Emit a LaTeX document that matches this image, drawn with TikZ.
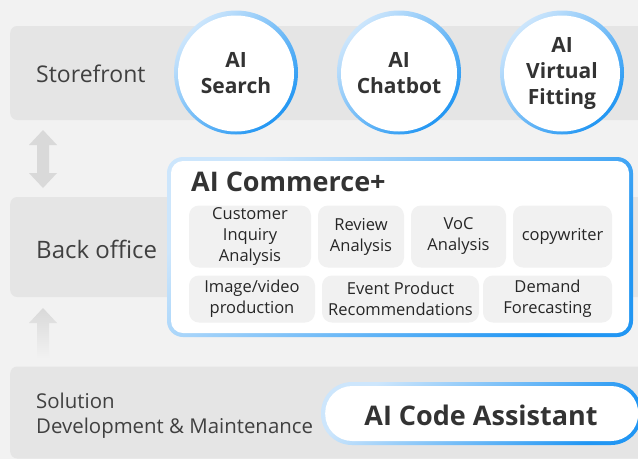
\documentclass[tikz,border=0pt]{standalone}
\usepackage{fontspec}
\setmainfont{Open Sans}
\usetikzlibrary{positioning, calc}
\definecolor{pagebg}{HTML}{F2F2F2}
\definecolor{bandgray}{HTML}{E5E5E5}
\definecolor{chipgray}{HTML}{F1F1F1}
\definecolor{arrowgray}{HTML}{D9D9D9}
\definecolor{ringlight}{HTML}{CDE6FC}
\definecolor{ringblue}{HTML}{2196F3}
\definecolor{labeltext}{HTML}{404040}
\definecolor{darktext}{HTML}{333333}

\tikzset{
  band/.style={rectangle, rounded corners=7pt, fill=bandgray, minimum width=650pt, anchor=west, inner sep=0pt},
  layer/.style={anchor=west, inner sep=0pt, text=labeltext, align=left, font=\fontsize{23}{27}\selectfont},
  ring/.style={top color=ringlight, bottom color=ringblue, shading angle=45},
  bubble/.style={circle, fill=white, minimum size=116pt, inner sep=0pt, align=center, text=darktext, font=\bfseries\fontsize{21}{26}\selectfont},
  chip/.style={rectangle, rounded corners=10pt, fill=chipgray, inner sep=0pt, align=center, text=black!85, font=\fontsize{16.5}{21}\selectfont},
  heading/.style={inner sep=0pt, text=darktext, font=\bfseries\fontsize{27}{30}\selectfont},
}

\begin{document}
\begin{tikzpicture}[x=1pt, y=-1pt]
 \fill[pagebg] (0,0) rectangle (638,459);
 \useasboundingbox (0,0) rectangle (638,459);
 \clip (0,0) rectangle (638,459);

 % layers
 \node[band, minimum height=94pt] (storeband) at (10,73) {};
 \node[band, minimum height=100pt] (backband) at (10,247) {};
 \node[band, minimum height=92pt] (solband) at (10,412.5) {};
 \node[layer] (store) at (36,74) {Storefront};
 \node[layer, font=\fontsize{24}{28}\selectfont] (back) at (36,249) {Back office};
 \node[layer, font=\fontsize{20.4}{25}\selectfont] (sol) at (36,415.5) {Solution\\Development \& Maintenance};

 % arrows between layers
 \fill[arrowgray] (43,130) -- (57,145) -- (49,145) -- (49,173) -- (57,173) -- (43,188)
   -- (29,173) -- (37,173) -- (37,145) -- (29,145) -- cycle;
 \shade[top color=arrowgray, bottom color=pagebg] (43,308) -- (57,323) -- (49,323)
   -- (49,358) -- (37,358) -- (37,323) -- (29,323) -- cycle;

 % storefront services
 \foreach \nm/\cx/\txt in {search/236/{AI\\Search}, chatbot/399/{AI\\Chatbot}, fitting/562/{AI\\Virtual\\Fitting}}{
   \shade[ring] (\cx,72.5) circle (62pt);
   \node[bubble] (\nm) at (\cx,73.5) {\txt};
 }

 % back office platform
 \shade[ring, rounded corners=16pt] (167,157) rectangle (633,337);
 \node[rectangle, rounded corners=12pt, fill=white, minimum width=458pt, minimum height=172pt, inner sep=0pt] (commerce) at (400,247) {};
 \node[heading, anchor=west] (commercetitle) at (191,182) {AI Commerce+};
 \node[chip, minimum width=122pt, minimum height=62pt] (inquiry) at (250,236.5) {Customer\\Inquiry\\Analysis};
 \node[chip, minimum width=86pt, minimum height=62pt] (review) at (361,236.5) {Review\\Analysis};
 \node[chip, minimum width=95pt, minimum height=62pt] (voc) at (458.5,236.5) {VoC\\Analysis};
 \node[chip, minimum width=99pt, minimum height=62pt] (copy) at (562.5,236.5) {copywriter};
 \node[chip, minimum width=126pt, minimum height=47pt] (imagevideo) at (252,299) {Image/video\\production};
 \node[chip, minimum width=157pt, minimum height=47pt] (eventrec) at (400.5,299) {Event Product\\Recommendations};
 \node[chip, minimum width=129pt, minimum height=47pt] (demand) at (547.5,299) {Demand\\Forecasting};

 % solution layer
 \shade[ring, rounded corners=31pt] (321,382) rectangle (642,445);
 \node[rectangle, rounded corners=27pt, fill=white, minimum width=313pt, minimum height=55pt, inner sep=0pt, anchor=west] (codeassist) at (325,413.5) {};
 \node[heading] (codetitle) at (481,415) {AI Code Assistant};
\end{tikzpicture}
\end{document}
